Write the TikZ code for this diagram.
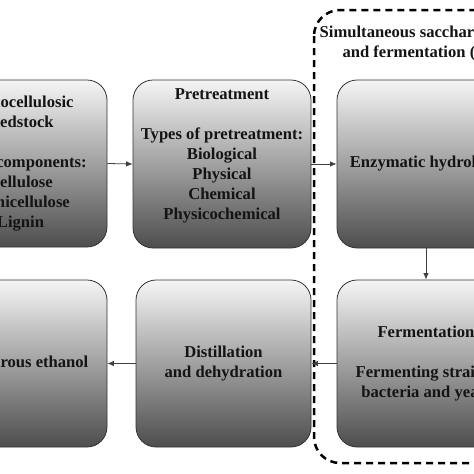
\documentclass[tikz,border=0pt]{standalone}
\usepackage{fontspec}
\setmainfont{Liberation Serif}
\usetikzlibrary{arrows.meta}
\begin{document}
\begin{tikzpicture}[x=1pt,y=-1pt,
  box/.style={draw=black!80, line width=0.8pt, rounded corners=20pt,
    top color=black!4, bottom color=black!70,
    font=\bfseries\fontsize{16.6}{20}\selectfont, align=center,
    inner sep=0pt, text=black!92},
  lbl/.style={font=\bfseries\fontsize{16.6}{20}\selectfont, align=center, inner sep=0pt, text=black!92},
  arr/.style={draw=black!75, line width=0.8pt, -{Latex[length=6.5pt,width=5.5pt]}},
  ssf/.style={draw=black, line width=2.5pt, dash pattern=on 7pt off 5pt, rounded corners=26pt}]
\useasboundingbox (0,0) rectangle (474,474);
\clip (0,0) rectangle (474,474);
% dashed SSF frame
\draw[ssf] (314,10) rectangle (650,463);
\node[lbl] (ssftext) at (426,43) {Simultaneous saccharification\\and fermentation (SSF)};
% boxes
\node[box, minimum width=173pt, minimum height=167pt] (feed) at (20.5,163.5)
  {Lignocellulosic\\feedstock\\~\\Main components:\\Cellulose\\Hemicellulose\\Lignin};
\node[box, minimum width=178pt, minimum height=168pt] (pre) at (222,164)
  {Pretreatment\\~\\Types of pretreatment:\\Biological\\Physical\\Chemical\\Physicochemical\\~};
\node[box, minimum width=178pt, minimum height=168pt] (enz) at (426,164)
  {Enzymatic hydrolysis};
\node[box, minimum width=178pt, minimum height=167pt] (ferm) at (426,363.5)
  {Fermentation\\~\\Fermenting strains:\\bacteria and yeast};
\node[box, minimum width=175pt, minimum height=167pt] (dist) at (223.5,363.5)
  {Distillation\\and dehydration};
\node[box, minimum width=173pt, minimum height=167pt] (eth) at (20.5,363.5)
  {Anhydrous ethanol};
% connectors
\draw[arr] (feed.east) -- (pre.west);
\draw[arr] (pre.east) -- (enz.west);
\draw[arr] (enz.south) -- (ferm.north);
\draw[arr] (ferm.west) -- (dist.east);
\draw[arr] (dist.west) -- (eth.east);
\end{tikzpicture}
\end{document}
